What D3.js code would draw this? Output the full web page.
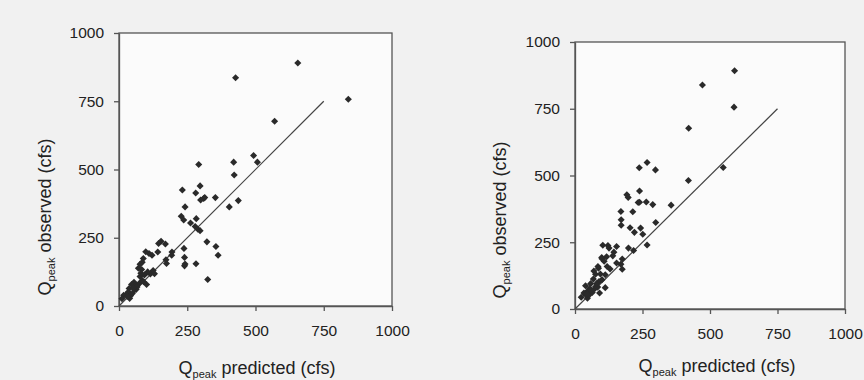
<!DOCTYPE html>
<html>
<head>
<meta charset="utf-8">
<script src="https://cdn.jsdelivr.net/npm/d3@7"></script>
<style>
  body { margin: 0; background: #f1f1f1; }
  svg { display: block; }
</style>
</head>
<body>
<div id="chart"></div>
<script>
// tick values shared by both panels
var tickValues = [0, 250, 500, 750, 1000];
var lineEnd = [0, 750];

// left panel: [predicted, observed]
var leftPoints = [
  [655, 890], [427, 836], [840, 757], [570, 677], [493, 551], [507, 527],
  [420, 527], [422, 480], [437, 386], [404, 363], [292, 518], [297, 440],
  [281, 414], [299, 388], [310, 394], [314, 397], [353, 397], [232, 425],
  [242, 363], [228, 329], [237, 315], [262, 304], [283, 320], [279, 291],
  [289, 281], [297, 276], [322, 235], [355, 218], [363, 186], [238, 211],
  [240, 178], [242, 154], [240, 147], [282, 155], [325, 97], [194, 198],
  [193, 186], [172, 169], [174, 156], [170, 227], [154, 237], [145, 229],
  [142, 198], [121, 186], [110, 192], [98, 199], [89, 174], [85, 160],
  [77, 153], [71, 138], [83, 134], [93, 114], [101, 79], [125, 130],
  [115, 117], [77, 108], [55, 87], [46, 79], [61, 76], [74, 82],
  [37, 64], [34, 51], [27, 43], [17, 39], [42, 38], [49, 46],
  [63, 61], [39, 28], [11, 27], [85, 93], [90, 89], [57, 59],
  [66, 70], [52, 66], [30, 35], [80, 120], [105, 125], [130, 118]
];

// right panel: [predicted, observed]
var rightPoints = [
  [591, 892], [472, 839], [589, 756], [421, 677], [549, 530], [420, 481],
  [356, 389], [238, 529], [267, 549], [298, 521], [239, 442], [192, 428],
  [197, 418], [234, 399], [239, 400], [264, 401], [288, 391], [299, 324],
  [214, 364], [170, 365], [171, 334], [171, 314], [204, 304], [243, 303],
  [220, 287], [251, 280], [267, 240], [217, 219], [198, 228], [175, 187],
  [170, 168], [175, 149], [154, 234], [126, 228], [122, 238], [103, 239],
  [144, 213], [140, 199], [117, 196], [99, 193], [100, 188], [108, 179],
  [119, 159], [154, 172], [85, 159], [87, 153], [70, 142], [76, 130],
  [94, 131], [112, 128], [68, 112], [89, 103], [112, 80], [58, 95],
  [39, 87], [54, 77], [73, 76], [76, 83], [47, 67], [33, 60],
  [23, 44], [46, 40], [64, 62], [52, 52], [39, 54], [84, 82],
  [91, 60], [60, 70], [45, 55], [80, 95], [100, 110], [130, 150]
];

var W = 864, H = 380;
var svg = d3.select("#chart").append("svg")
  .attr("width", W)
  .attr("height", H)
  .style("font-family", "Arial, 'Liberation Sans', sans-serif");

svg.append("rect").attr("width", W).attr("height", H).attr("fill", "#f1f1f1");

var panels = [
  { data: leftPoints, x0: 119, x1: 392, y0: 306, y1: 33, xTitleX: 257, xTitleY: 374, yTitleX: 51, yTitleY: 217 },
  { data: rightPoints, x0: 575, x1: 845, y0: 309, y1: 42, xTitleX: 717, xTitleY: 372, yTitleX: 506, yTitleY: 220 }
];

// small diamond: a square turned 45 degrees
var marker = d3.symbol().type(d3.symbolSquare).size(25);

panels.forEach(function(p) {
  var x = d3.scaleLinear().domain([0, 1000]).range([p.x0, p.x1]);
  var y = d3.scaleLinear().domain([0, 1000]).range([p.y0, p.y1]);

  // plot background
  svg.append("rect")
    .attr("x", p.x0).attr("y", p.y1)
    .attr("width", p.x1 - p.x0).attr("height", p.y0 - p.y1)
    .attr("fill", "#fbfbfb")
    .attr("stroke", "#555")
    .attr("stroke-width", 1.3);

  var xAxis = svg.append("g")
    .attr("transform", "translate(0," + p.y0 + ")")
    .call(d3.axisBottom(x).tickValues(tickValues).tickFormat(d3.format("d"))
      .tickSizeInner(5).tickSizeOuter(0).tickPadding(14));
  var yAxis = svg.append("g")
    .attr("transform", "translate(" + p.x0 + ",0)")
    .call(d3.axisLeft(y).tickValues(tickValues).tickFormat(d3.format("d"))
      .tickSizeInner(5).tickSizeOuter(0).tickPadding(10));

  [xAxis, yAxis].forEach(function(a) {
    a.attr("font-size", null).attr("font-family", null);
    a.select(".domain").attr("stroke", "#555").attr("stroke-width", 1.3);
    a.selectAll(".tick line").attr("stroke", "#555").attr("stroke-width", 1.3);
    a.selectAll(".tick text")
      .attr("fill", "#222")
      .style("font-size", "15.5px");
  });

  // 1:1 line
  svg.append("line")
    .attr("x1", x(lineEnd[0])).attr("y1", y(lineEnd[0]))
    .attr("x2", x(lineEnd[1])).attr("y2", y(lineEnd[1]))
    .attr("stroke", "#444")
    .attr("stroke-width", 1.2);

  // points
  svg.append("g").selectAll("path")
    .data(p.data)
    .enter()
    .append("path")
    .attr("d", marker)
    .attr("transform", function(d) { return "translate(" + x(d[0]) + "," + y(d[1]) + ") rotate(45)"; })
    .attr("fill", "#2a2a2a");

  // x title
  var xt = svg.append("text")
    .attr("x", p.xTitleX).attr("y", p.xTitleY)
    .attr("text-anchor", "middle")
    .attr("fill", "#222")
    .style("font-size", "18px");
  xt.append("tspan").text("Q");
  xt.append("tspan").attr("dy", 4).style("font-size", "11px").text("peak");
  xt.append("tspan").attr("dy", -4).text(" predicted (cfs)");

  // y title
  var yt = svg.append("text")
    .attr("transform", "translate(" + p.yTitleX + "," + p.yTitleY + ") rotate(-90)")
    .attr("text-anchor", "middle")
    .attr("fill", "#222")
    .style("font-size", "18px");
  yt.append("tspan").text("Q");
  yt.append("tspan").attr("dy", 4).style("font-size", "11px").text("peak");
  yt.append("tspan").attr("dy", -4).text(" observed (cfs)");
});
</script>
</body>
</html>
